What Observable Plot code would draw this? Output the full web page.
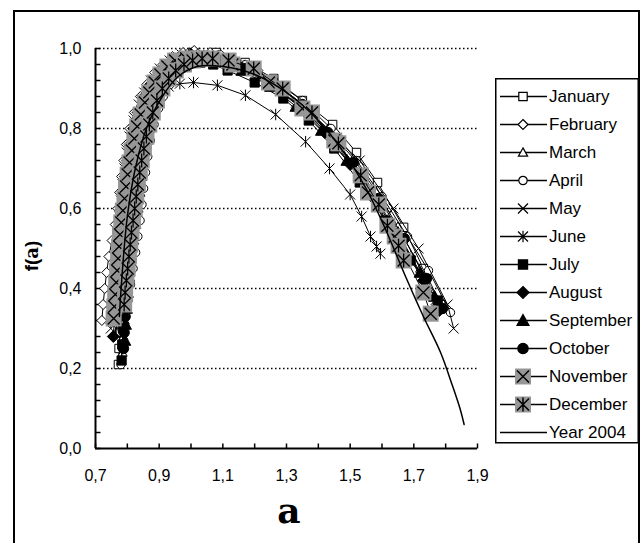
<!DOCTYPE html>
<html>
<head>
<meta charset="utf-8">
<script src="https://cdn.jsdelivr.net/npm/d3@7"></script>
<script src="https://cdn.jsdelivr.net/npm/@observablehq/plot@0.6"></script>
<style>
  html, body { margin: 0; padding: 0; background: #fff; }
  #wrap { position: relative; width: 644px; height: 543px; overflow: hidden; background: #fff; }
  #frame { position: absolute; left: 13px; top: 10px; width: 627px; height: 560px; border: 2px solid #000; box-sizing: border-box; }
  #plot { position: absolute; left: 0; top: 0; }
  #legend { position: absolute; left: 495px; top: 78px; }
  #ytitle { position: absolute; left: 32px; top: 256px; transform: translate(-50%, -50%) rotate(-90deg); font: bold 19px "Liberation Sans", Arial, sans-serif; white-space: nowrap; }
  #ytitle span { font-family: "DejaVu Serif", serif; font-weight: bold; font-size: 18px; }
  #xtitle { position: absolute; left: 289px; top: 492px; transform: translateX(-50%); font: bold 36px "DejaVu Serif", serif; line-height: 1; }
</style>
</head>
<body>
<div id="wrap">
  <div id="frame"></div>
  <div id="plot"></div>
  <div id="legend"></div>
  <div id="ytitle">f(<span>a</span>)</div>
  <div id="xtitle">a</div>
</div>
<script>
// ---------------- data: [alpha, f(alpha)] ----------------
const january = [[0.772,0.21],[0.774,0.25],[0.776,0.29],[0.779,0.33],[0.782,0.37],[0.786,0.41],[0.790,0.45],[0.793,0.49],[0.796,0.53],[0.799,0.57],[0.802,0.61],[0.806,0.65],[0.811,0.69],[0.818,0.73],[0.827,0.77],[0.840,0.81],[0.855,0.85],[0.872,0.88],[0.892,0.91],[0.917,0.94],[0.942,0.96],[0.972,0.98],[1.005,0.99],[1.08,0.99],[1.17,0.965],[1.26,0.925],[1.35,0.87],[1.445,0.81],[1.52,0.74],[1.586,0.665],[1.668,0.553],[1.73,0.45],[1.785,0.36]];
const february = [[0.720,0.32],[0.724,0.36],[0.729,0.40],[0.735,0.44],[0.742,0.48],[0.752,0.52],[0.762,0.56],[0.770,0.60],[0.776,0.64],[0.782,0.68],[0.789,0.72],[0.797,0.76],[0.808,0.80],[0.822,0.84],[0.841,0.88],[0.861,0.91],[0.886,0.94],[0.912,0.96],[0.942,0.98],[0.975,0.99],[1.010,0.995],[1.06,0.99],[1.13,0.975],[1.21,0.945],[1.29,0.90],[1.37,0.845],[1.45,0.775],[1.53,0.69],[1.61,0.59],[1.69,0.48],[1.77,0.36]];
const march = [[0.785,0.24],[0.788,0.28],[0.792,0.32],[0.797,0.36],[0.802,0.40],[0.808,0.44],[0.814,0.48],[0.821,0.52],[0.828,0.56],[0.835,0.60],[0.841,0.64],[0.847,0.68],[0.853,0.72],[0.861,0.76],[0.872,0.80],[0.886,0.84],[0.905,0.88],[0.925,0.91],[0.950,0.94],[0.975,0.96],[1.005,0.98],[1.04,0.985],[1.10,0.98],[1.18,0.955],[1.26,0.92],[1.34,0.865],[1.43,0.80],[1.51,0.725],[1.58,0.645],[1.65,0.555],[1.72,0.45],[1.78,0.35]];
const april = [[0.780,0.21],[0.784,0.25],[0.789,0.29],[0.795,0.33],[0.802,0.37],[0.810,0.41],[0.818,0.45],[0.826,0.49],[0.833,0.53],[0.840,0.57],[0.846,0.61],[0.851,0.65],[0.857,0.69],[0.864,0.73],[0.872,0.77],[0.884,0.81],[0.898,0.85],[0.913,0.88],[0.934,0.91],[0.960,0.94],[0.985,0.96],[1.02,0.975],[1.09,0.985],[1.17,0.96],[1.26,0.92],[1.35,0.87],[1.44,0.80],[1.52,0.72],[1.60,0.63],[1.68,0.53],[1.746,0.445],[1.815,0.34]];
const may = [[0.748,0.30],[0.751,0.34],[0.754,0.38],[0.758,0.42],[0.762,0.46],[0.766,0.50],[0.771,0.54],[0.775,0.58],[0.780,0.62],[0.785,0.66],[0.791,0.70],[0.798,0.74],[0.807,0.78],[0.820,0.82],[0.836,0.86],[0.853,0.89],[0.874,0.92],[0.902,0.95],[0.933,0.97],[0.970,0.985],[1.010,0.99],[1.07,0.98],[1.15,0.955],[1.24,0.915],[1.33,0.865],[1.42,0.80],[1.53,0.72],[1.636,0.60],[1.715,0.50],[1.806,0.36],[1.825,0.30]];
const june = [[0.765,0.30],[0.767,0.34],[0.770,0.38],[0.773,0.42],[0.777,0.46],[0.781,0.50],[0.785,0.54],[0.789,0.58],[0.794,0.62],[0.799,0.66],[0.806,0.70],[0.815,0.74],[0.827,0.78],[0.843,0.82],[0.866,0.86],[0.895,0.89],[0.930,0.905],[0.965,0.912],[1.008,0.915],[1.083,0.908],[1.171,0.883],[1.266,0.835],[1.36,0.767],[1.435,0.70],[1.50,0.635],[1.536,0.58],[1.564,0.53],[1.583,0.505],[1.595,0.487]];
const july = [[0.782,0.22],[0.784,0.26],[0.786,0.30],[0.789,0.34],[0.792,0.38],[0.795,0.42],[0.798,0.46],[0.801,0.50],[0.804,0.54],[0.807,0.58],[0.811,0.62],[0.816,0.66],[0.822,0.70],[0.829,0.74],[0.838,0.78],[0.850,0.82],[0.866,0.86],[0.884,0.89],[0.908,0.92],[0.930,0.94],[0.958,0.955],[0.990,0.962],[1.03,0.965],[1.07,0.96],[1.115,0.945],[1.20,0.915],[1.29,0.875],[1.37,0.82],[1.45,0.75],[1.53,0.665],[1.61,0.57],[1.69,0.47],[1.775,0.37]];
const august = [[0.756,0.28],[0.759,0.32],[0.762,0.36],[0.765,0.40],[0.768,0.44],[0.772,0.48],[0.776,0.52],[0.780,0.56],[0.784,0.60],[0.789,0.64],[0.794,0.68],[0.801,0.72],[0.809,0.76],[0.820,0.80],[0.834,0.84],[0.853,0.88],[0.873,0.91],[0.900,0.94],[0.928,0.96],[0.960,0.975],[1.000,0.985],[1.07,0.975],[1.16,0.95],[1.25,0.91],[1.34,0.855],[1.42,0.79],[1.50,0.71],[1.58,0.62],[1.66,0.52],[1.73,0.42],[1.78,0.345]];
const september = [[0.792,0.27],[0.794,0.31],[0.797,0.35],[0.800,0.39],[0.804,0.43],[0.808,0.47],[0.812,0.51],[0.816,0.55],[0.820,0.59],[0.825,0.63],[0.830,0.67],[0.836,0.71],[0.844,0.75],[0.854,0.79],[0.867,0.83],[0.884,0.87],[0.902,0.90],[0.925,0.93],[0.948,0.95],[0.975,0.965],[1.010,0.975],[1.08,0.97],[1.16,0.945],[1.25,0.905],[1.33,0.855],[1.41,0.795],[1.49,0.72],[1.57,0.635],[1.65,0.54],[1.72,0.44],[1.765,0.38]];
const october = [[0.788,0.25],[0.790,0.29],[0.793,0.33],[0.796,0.37],[0.800,0.41],[0.804,0.45],[0.808,0.49],[0.812,0.53],[0.816,0.57],[0.820,0.61],[0.825,0.65],[0.830,0.69],[0.837,0.73],[0.846,0.77],[0.858,0.81],[0.873,0.85],[0.889,0.88],[0.910,0.91],[0.937,0.94],[0.962,0.96],[0.995,0.975],[1.08,0.975],[1.17,0.95],[1.26,0.91],[1.35,0.86],[1.43,0.79],[1.51,0.715],[1.59,0.625],[1.67,0.525],[1.74,0.425],[1.79,0.35]];
const november = [[0.757,0.325],[0.759,0.355],[0.762,0.385],[0.765,0.415],[0.768,0.445],[0.771,0.475],[0.774,0.505],[0.777,0.535],[0.781,0.565],[0.786,0.595],[0.791,0.625],[0.796,0.655],[0.801,0.685],[0.807,0.715],[0.814,0.745],[0.822,0.775],[0.831,0.805],[0.842,0.835],[0.855,0.865],[0.869,0.89],[0.886,0.915],[0.904,0.935],[0.926,0.955],[0.950,0.97],[0.985,0.975],[1.02,0.975],[1.13,0.96],[1.245,0.915],[1.35,0.85],[1.45,0.77],[1.556,0.64],[1.64,0.53],[1.73,0.39],[1.753,0.337]];
const december = [[0.790,0.36],[0.793,0.39],[0.797,0.42],[0.801,0.45],[0.805,0.48],[0.809,0.51],[0.813,0.54],[0.818,0.57],[0.823,0.60],[0.828,0.63],[0.833,0.66],[0.839,0.69],[0.845,0.72],[0.852,0.75],[0.860,0.78],[0.869,0.81],[0.880,0.84],[0.893,0.87],[0.910,0.90],[0.930,0.925],[0.952,0.945],[0.978,0.96],[1.005,0.97],[1.035,0.975],[1.068,0.975],[1.118,0.97],[1.197,0.95],[1.288,0.90],[1.38,0.84],[1.463,0.763],[1.533,0.683],[1.59,0.61],[1.617,0.557],[1.652,0.507],[1.668,0.47]];
const year2004 = [[0.775,0.33],[0.785,0.45],[0.80,0.58],[0.825,0.70],[0.86,0.80],[0.91,0.88],[0.96,0.93],[1.02,0.955],[1.10,0.955],[1.20,0.935],[1.30,0.89],[1.40,0.82],[1.48,0.74],[1.55,0.65],[1.61,0.55],[1.674,0.43],[1.73,0.33],[1.784,0.24],[1.82,0.16],[1.845,0.10],[1.858,0.06]];

const monthNames = ["January","February","March","April","May","June","July","August","September","October","November","December"];
const yearName = "Year 2004";
const xTickValues = [0.7,0.8,0.9,1.0,1.1,1.2,1.3,1.4,1.5,1.6,1.7,1.8,1.9];
const xLabelValues = [0.7,0.9,1.1,1.3,1.5,1.7,1.9];
const yTickValues = [0,0.04,0.08,0.12,0.16,0.2,0.24,0.28,0.32,0.36,0.4,0.44,0.48,0.52,0.56,0.6,0.64,0.68,0.72,0.76,0.8,0.84,0.88,0.92,0.96,1.0];
const yLabelValues = [0,0.2,0.4,0.6,0.8,1.0];
const gridValues = [0.2,0.4,0.6,0.8,1.0];

// ---------------- symbols ----------------
const mk = f => ({draw(c, size) { const r = Math.sqrt(size / Math.PI); f(c, r); }});
const symSquare = mk((c,r)=>{c.moveTo(-r,-r);c.lineTo(r,-r);c.lineTo(r,r);c.lineTo(-r,r);c.closePath();});
const symDiamond = mk((c,r)=>{c.moveTo(0,-r);c.lineTo(r,0);c.lineTo(0,r);c.lineTo(-r,0);c.closePath();});
const symTriangle = mk((c,r)=>{c.moveTo(0,-r);c.lineTo(r,r*0.8);c.lineTo(-r,r*0.8);c.closePath();});
const symCircle = mk((c,r)=>{c.moveTo(r,0);c.arc(0,0,r,0,2*Math.PI);c.closePath();});
const symTimes = mk((c,r)=>{c.moveTo(-r,-r);c.lineTo(r,r);c.moveTo(r,-r);c.lineTo(-r,r);});
const symAst = mk((c,r)=>{c.moveTo(-r,-r);c.lineTo(r,r);c.moveTo(r,-r);c.lineTo(-r,r);c.moveTo(0,-r*1.15);c.lineTo(0,r*1.15);});
const symTickUp = mk((c,r)=>{c.moveTo(0,0);c.lineTo(0,-r);});
const symTickRight = mk((c,r)=>{c.moveTo(0,0);c.lineTo(r,0);});

const GRAY = "#969696";
const series = [
  {data: january,   sym: symSquare,   r: 4.2, fill: "white", stroke: "black"},
  {data: february,  sym: symDiamond,  r: 5,   fill: "white", stroke: "black"},
  {data: march,     sym: symTriangle, r: 4.6, fill: "white", stroke: "black"},
  {data: april,     sym: symCircle,   r: 4.2, fill: "white", stroke: "black"},
  {data: may,       sym: symTimes,    r: 5,   fill: "none",  stroke: "black"},
  {data: june,      sym: symAst,      r: 5,   fill: "none",  stroke: "black"},
  {data: july,      sym: symSquare,   r: 4.6, fill: "black", stroke: "black"},
  {data: august,    sym: symDiamond,  r: 6,   fill: "black", stroke: "black"},
  {data: september, sym: symTriangle, r: 6,   fill: "black", stroke: "black"},
  {data: october,   sym: symCircle,   r: 5.2, fill: "black", stroke: "black"},
  {data: november,  sym: symSquare,   r: 8,   fill: GRAY,    stroke: "none", over: symTimes, overR: 6},
  {data: december,  sym: symSquare,   r: 8,   fill: GRAY,    stroke: "none", over: symAst,   overR: 6}
].map((s, i) => ({...s, name: monthNames[i]}));

const fmt = d => d.toFixed(1).replace(".", ",");
const X = d => d[0], Y = d => d[1];

const marks = [
  Plot.ruleY(gridValues, {stroke: "black", strokeWidth: 1.5, strokeDasharray: "1.5,2.5"}),
  Plot.dot(xTickValues, {x: d => d, y: () => yLabelValues[0], symbol: symTickUp, r: 5, stroke: "black", strokeWidth: 1.5, fill: "none"}),
  Plot.dot(yTickValues, {x: () => xTickValues[0], y: d => d, symbol: symTickRight, r: 5, stroke: "black", strokeWidth: 1.5, fill: "none"}),
  Plot.ruleX([xTickValues[0]], {stroke: "black", strokeWidth: 2}),
  Plot.ruleY([yLabelValues[0]], {stroke: "black", strokeWidth: 2})
];
for (const s of series) {
  marks.push(Plot.line(s.data, {x: X, y: Y, stroke: "black", strokeWidth: 1}));
  marks.push(Plot.dot(s.data, {x: X, y: Y, symbol: s.sym, r: s.r, fill: s.fill, stroke: s.stroke, strokeWidth: 1}));
  if (s.over) marks.push(Plot.dot(s.data, {x: X, y: Y, symbol: s.over, r: s.overR, fill: "none", stroke: "black", strokeWidth: 1.3}));
}
marks.push(Plot.line(year2004, {x: X, y: Y, stroke: "black", strokeWidth: 1.5, curve: "catmull-rom"}));

const chart = Plot.plot({
  width: 490, height: 543,
  marginLeft: 95, marginRight: 13, marginTop: 48, marginBottom: 95,
  style: {fontFamily: "'Liberation Sans', Arial, sans-serif", fontSize: "16px", color: "black", background: "transparent", overflow: "visible"},
  x: {domain: [0.7, 1.9], ticks: xLabelValues, tickFormat: fmt, tickSize: 0, tickPadding: 21, label: null},
  y: {domain: [0, 1], ticks: yLabelValues, tickFormat: fmt, tickSize: 0, tickPadding: 14, label: null},
  marks
});
document.getElementById("plot").appendChild(chart);

// ---------------- legend ----------------
const lw = 145, lh = 366;
const lsvg = d3.select("#legend").append("svg").attr("width", lw).attr("height", lh);
lsvg.append("rect").attr("x", 0.75).attr("y", 0.75).attr("width", lw - 2.5).attr("height", lh - 2).attr("fill", "white").attr("stroke", "black").attr("stroke-width", 1.5);
const items = [...series, {name: yearName}];
items.forEach((s, i) => {
  const cy = 18.5 + 28 * i;
  const g = lsvg.append("g").attr("transform", `translate(0,${cy})`);
  g.append("line").attr("x1", 5).attr("x2", 52).attr("y1", 0).attr("y2", 0).attr("stroke", "black").attr("stroke-width", s.sym ? 1.3 : 1.5);
  if (s.sym) {
    const p = d3.path(); s.sym.draw(p, Math.PI * s.r * s.r);
    g.append("path").attr("d", p.toString()).attr("transform", "translate(28,0)").attr("fill", s.fill).attr("stroke", s.stroke === "none" ? "none" : "black").attr("stroke-width", 1.2);
    if (s.over) {
      const q = d3.path(); s.over.draw(q, Math.PI * s.overR * s.overR);
      g.append("path").attr("d", q.toString()).attr("transform", "translate(28,0)").attr("fill", "none").attr("stroke", "black").attr("stroke-width", 1.5);
    }
  }
  g.append("text").attr("x", 54).attr("y", 0).attr("dy", "0.35em").attr("font-family", "'Liberation Sans', Arial, sans-serif").attr("font-size", 17).text(s.name);
});
</script>
</body>
</html>
